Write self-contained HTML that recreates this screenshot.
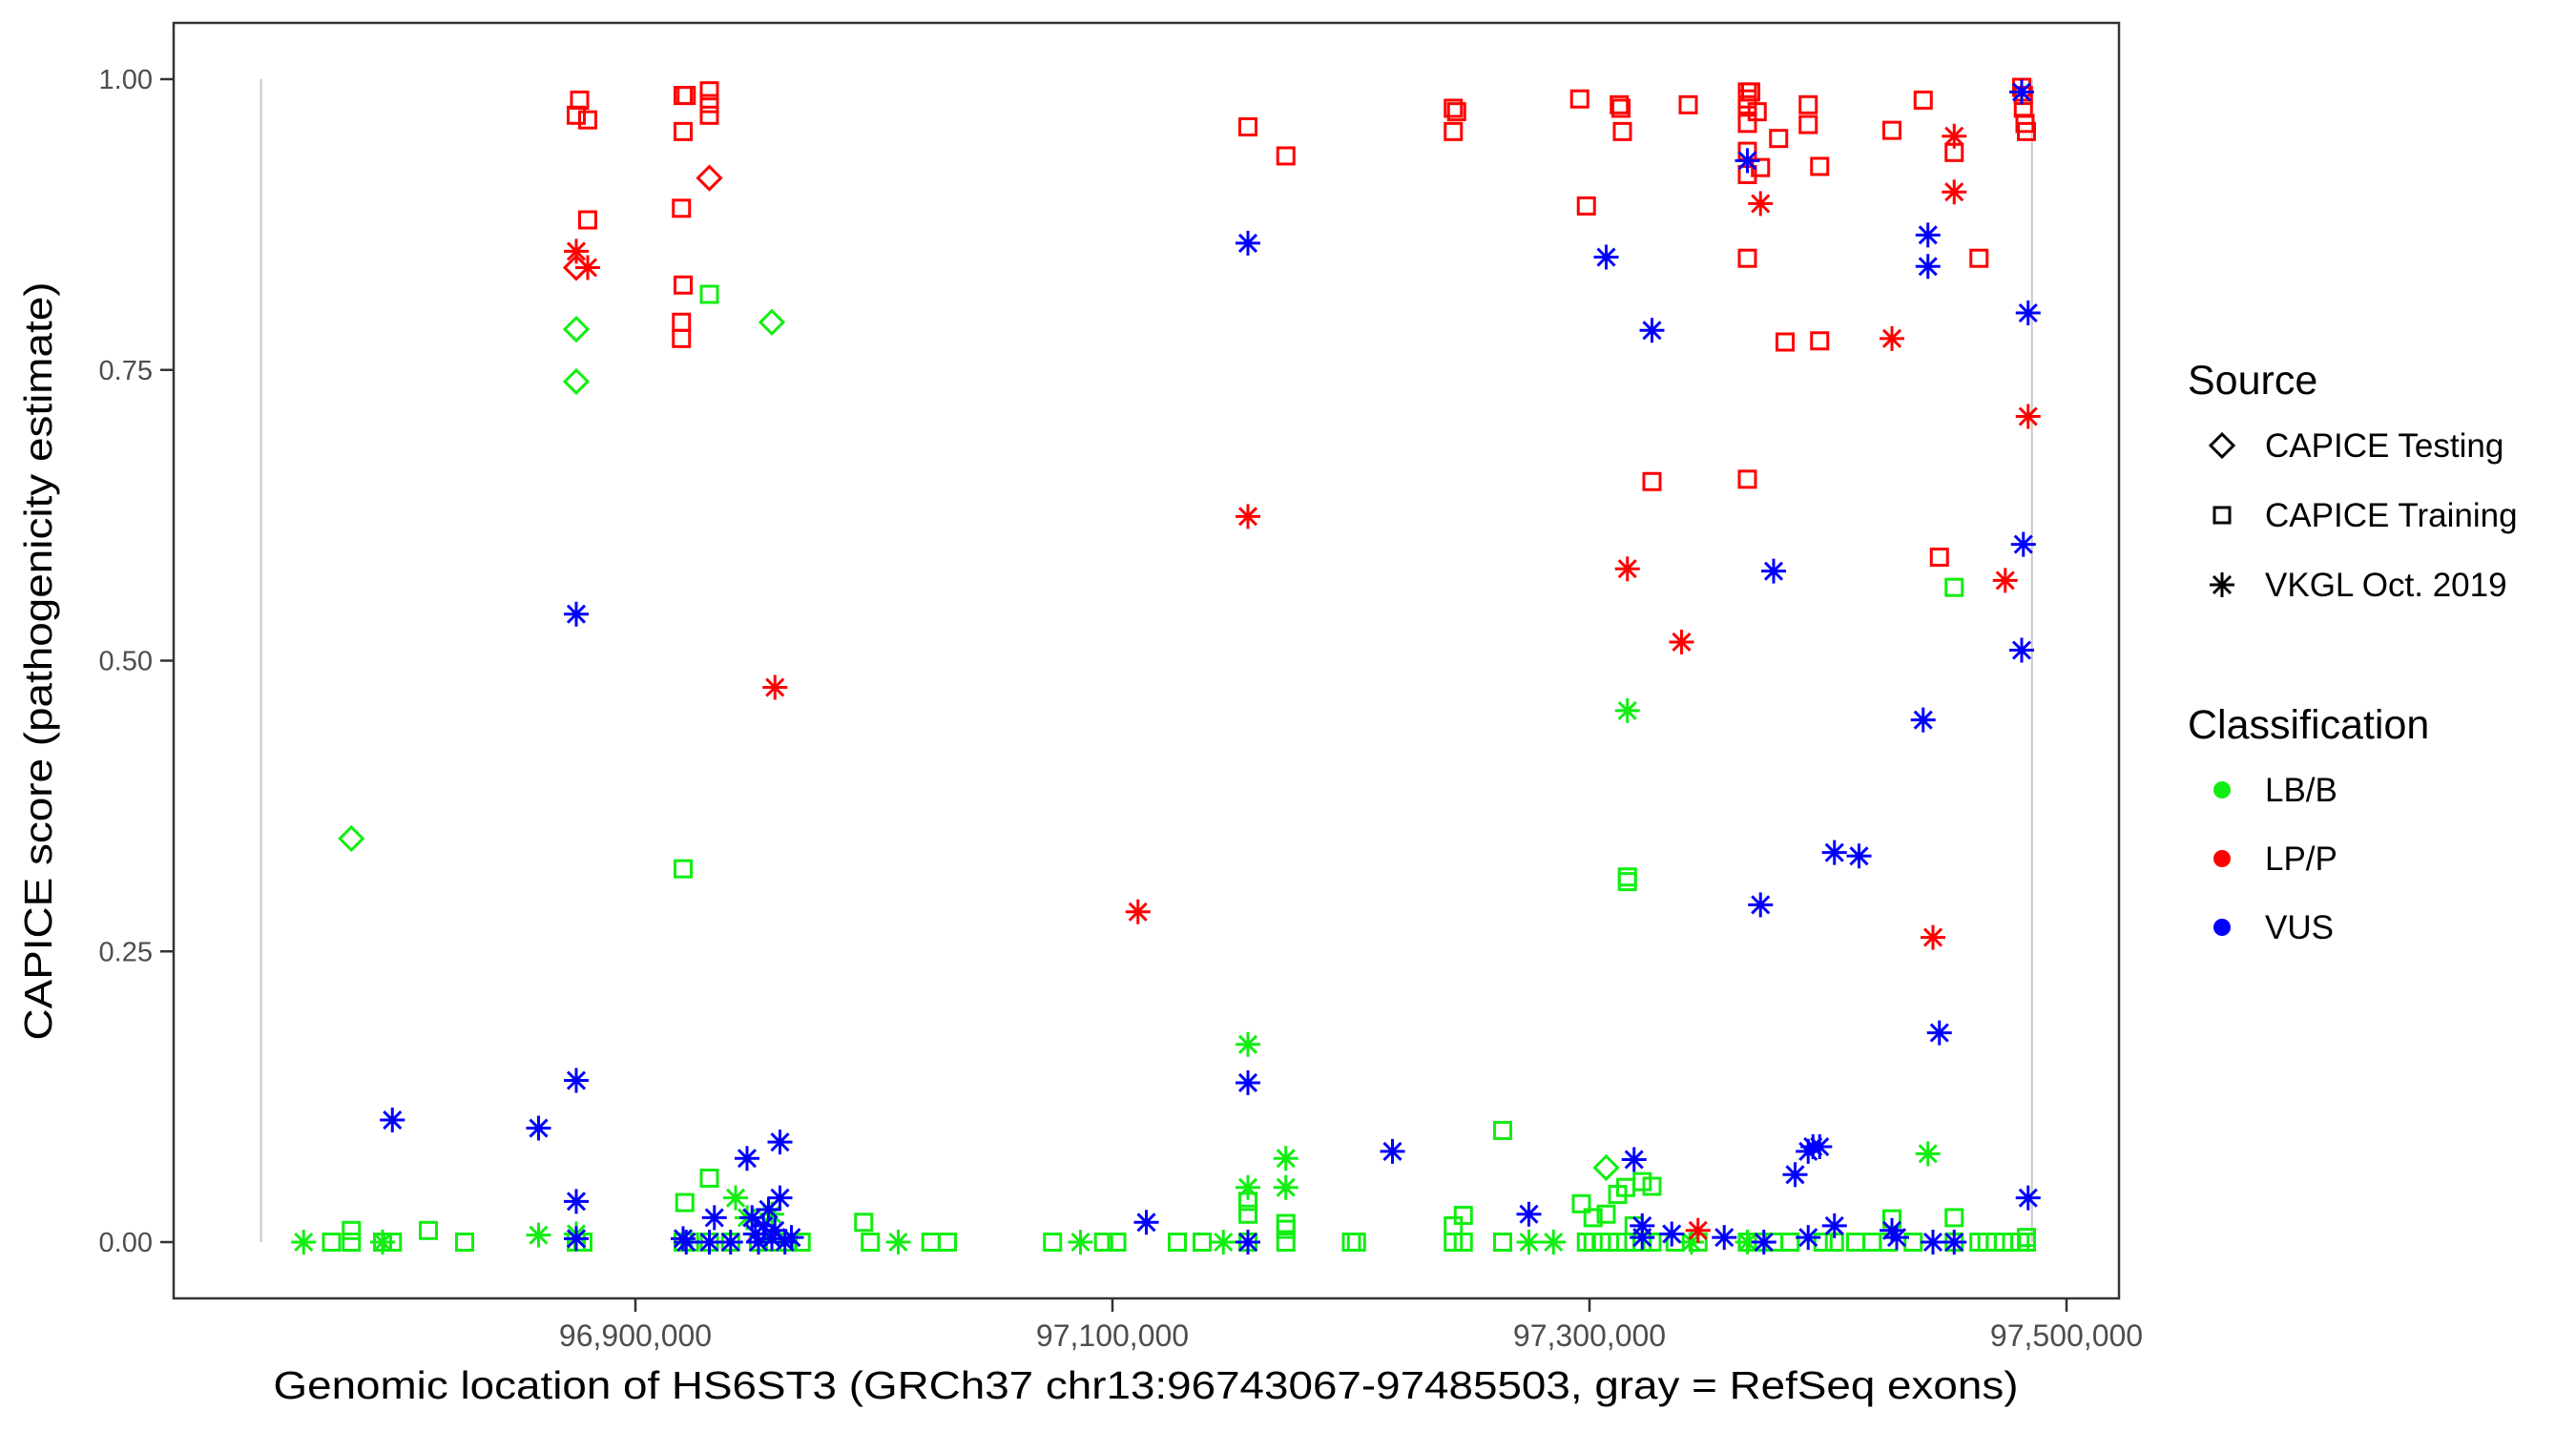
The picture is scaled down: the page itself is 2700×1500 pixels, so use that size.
<!DOCTYPE html>
<html><head><meta charset="utf-8"><title>CAPICE HS6ST3</title>
<style>html,body{margin:0;padding:0;background:#fff}svg{display:block}text{font-family:"Liberation Sans",Arial,sans-serif}</style>
</head><body>
<svg id="chart" width="2700" height="1500" viewBox="0 0 2700 1500" xmlns="http://www.w3.org/2000/svg">
<rect x="0" y="0" width="2700" height="1500" fill="#fff"/>
<g id="plot"></g>
<rect x="182" y="24" width="2039" height="1337" fill="none" stroke="#333" stroke-width="2.5"/>
<g id="axes"></g>
<text x="1201" y="1466" font-size="41" text-anchor="middle" textLength="1829" lengthAdjust="spacingAndGlyphs" fill="#000">Genomic location of HS6ST3 (GRCh37 chr13:96743067-97485503, gray = RefSeq exons)</text>
<text transform="translate(54,693) rotate(-90)" font-size="41" text-anchor="middle" textLength="795" lengthAdjust="spacingAndGlyphs" fill="#000">CAPICE score (pathogenicity estimate)</text>
<g id="legend">
<text x="2293" y="413" font-size="43" fill="#000">Source</text>
<g>
<path d="M2329 455 L2341 467 L2329 479 L2317 467 Z" fill="none" stroke="#000" stroke-width="3"/>
<text x="2374" y="479" font-size="35" fill="#000">CAPICE Testing</text></g>
<g>
<rect x="2321" y="532" width="16" height="16" fill="none" stroke="#000" stroke-width="3"/>
<text x="2374" y="552" font-size="35" fill="#000">CAPICE Training</text></g>
<g>
<path d="M2329 600 V626 M2316 613 H2342 M2320 604 L2338 622 M2338 604 L2320 622" stroke="#000" stroke-width="3"/>
<text x="2374" y="625" font-size="35" fill="#000">VKGL Oct. 2019</text></g>
<text x="2293" y="774" font-size="43" fill="#000">Classification</text>
<g><circle cx="2329" cy="828" r="9" fill="#11ee11"/><text x="2374" y="840" font-size="35" fill="#000">LB/B</text></g>
<g><circle cx="2329" cy="900" r="9" fill="#ff0000"/><text x="2374" y="912" font-size="35" fill="#000">LP/P</text></g>
<g><circle cx="2329" cy="972" r="9" fill="#0000ff"/><text x="2374" y="984" font-size="35" fill="#000">VUS</text></g>
</g>
</svg>
<script>
// positions in kb (genomic position / 1000), scores 0..1
const yTicks = [0, 0.25, 0.5, 0.75, 1.0];
const yTickLabels = ["0.00", "0.25", "0.50", "0.75", "1.00"];
const xTicks = [96900, 97100, 97300, 97500];
const xTickLabels = ["96,900,000", "97,100,000", "97,300,000", "97,500,000"];
const exonBounds = [96743.067, 97485.503];

const lbTestPos = [96780.9, 96875.2, 96875.2, 96957.2, 97307.0];
const lbTestScore = [0.347, 0.785, 0.740, 0.791, 0.064];

const lbTrainPos = [96931.0, 96920.0, 97452.9, 97263.6, 97315.9, 97315.9, 96920.7, 96931.0, 97156.8, 97156.8, 97172.7, 97172.7, 96780.9, 96813.2, 97296.6, 97307.0, 97311.8, 97315.2, 97322.1, 97326.2, 97301.5, 97318.7, 97242.9, 97247.1, 97426.8, 97452.9, 96995.7, 97483.2,
  96772.6, 96780.9, 96794.0, 96798.1, 96828.4, 96875.2, 96878.0, 96920.0, 96922.7, 96931.0, 96939.9, 96951.6, 96957.2, 96964.0, 96969.5, 96998.5, 97023.9, 97030.8, 97074.9, 97096.3, 97101.8, 97127.2, 97137.6, 97156.8, 97172.7, 97200.2, 97202.3, 97242.9, 97247.1, 97263.6, 97298.7, 97301.5, 97304.9, 97311.8, 97315.2, 97322.1, 97326.2, 97335.9, 97345.5, 97366.2, 97370.3, 97377.2, 97384.1, 97397.9, 97402.7, 97411.6, 97418.5, 97425.4, 97435.7, 97452.9, 97463.3, 97466.7, 97470.2, 97473.6, 97477.0, 97480.5, 97483.2];
const lbTrainScore = [0.815, 0.321, 0.563, 0.096, 0.314, 0.310, 0.034, 0.055, 0.035, 0.024, 0.011, 0.016, 0.010, 0.010, 0.033, 0.024, 0.041, 0.047, 0.052, 0.048, 0.021, 0.014, 0.014, 0.023, 0.020, 0.021, 0.017, 0.004,
  0, 0, 0, 0, 0, 0, 0, 0, 0, 0, 0, 0, 0, 0, 0, 0, 0, 0, 0, 0, 0, 0, 0, 0, 0, 0, 0, 0, 0, 0, 0, 0, 0, 0, 0, 0, 0, 0, 0, 0, 0, 0, 0, 0, 0, 0, 0, 0, 0, 0, 0, 0, 0, 0, 0, 0, 0];

const lbVkglPos = [96760.9, 96794.0, 96859.4, 96875.2, 96942.0, 96957.2, 97010.2, 97086.6, 97146.5, 97156.8, 97156.8, 97172.7, 97172.7, 97274.6, 97284.9, 97315.9, 97441.9, 97342.8, 97322.1, 97366.2, 96946.8];
const lbVkglScore = [0, 0, 0.006, 0.007, 0.038, 0.024, 0, 0, 0, 0.047, 0.170, 0.072, 0.047, 0, 0, 0.457, 0.076, 0, 0.004, 0, 0.021];

const lpTestPos = [96931.0, 96875.2];
const lpTestScore = [0.915, 0.838];

const lpTrainPos = [96875.2, 96876.6, 96880.0, 96880.0, 96920.0, 96921.3, 96920.0, 96919.3, 96920.0, 96919.3, 96919.3, 96931.0, 96931.0, 96931.0, 97156.8, 97172.7, 97242.9, 97244.3, 97242.9, 97295.9, 97298.7, 97312.5, 97313.2, 97313.8, 97326.2, 97341.4, 97366.2, 97366.2, 97367.6, 97366.2, 97366.2, 97366.2, 97366.2, 97366.2, 97366.2, 97370.3, 97371.7, 97379.3, 97382.0, 97391.7, 97391.7, 97396.5, 97396.5, 97426.8, 97439.9, 97446.7, 97452.9, 97463.3, 97481.2, 97481.9, 97481.9, 97482.6, 97483.2];
const lpTrainScore = [0.969, 0.982, 0.965, 0.879, 0.986, 0.986, 0.955, 0.889, 0.823, 0.791, 0.777, 0.990, 0.979, 0.969, 0.959, 0.934, 0.975, 0.972, 0.955, 0.983, 0.891, 0.978, 0.975, 0.955, 0.654, 0.978, 0.989, 0.983, 0.989, 0.978, 0.962, 0.938, 0.918, 0.846, 0.656, 0.972, 0.924, 0.949, 0.774, 0.978, 0.961, 0.925, 0.775, 0.956, 0.982, 0.589, 0.937, 0.846, 0.993, 0.986, 0.975, 0.962, 0.955];

const lpVkglPos = [96875.2, 96880.0, 96958.5, 97110.7, 97156.8, 97315.9, 97338.6, 97345.5, 97371.7, 97426.8, 97444.0, 97452.9, 97452.9, 97474.3, 97483.9];
const lpVkglScore = [0.852, 0.838, 0.477, 0.284, 0.624, 0.579, 0.516, 0.010, 0.893, 0.777, 0.262, 0.951, 0.903, 0.569, 0.710];

const vusVkglPos = [96875.2, 96875.2, 96875.2, 96875.2, 96798.1, 96859.4, 96920.0, 96921.3, 96931.0, 96933.1, 96939.9, 96946.8, 96948.9, 96950.3, 96951.6, 96953.7, 96955.8, 96957.2, 96958.5, 96960.6, 96960.6, 96962.7, 96965.4, 97156.8, 97156.8, 97156.8, 97114.2, 97217.4, 97274.6, 97307.0, 97318.7, 97322.1, 97322.1, 97326.2, 97334.5, 97356.5, 97366.2, 97371.7, 97373.1, 97377.2, 97386.2, 97391.7, 97393.7, 97391.7, 97396.5, 97402.7, 97402.7, 97413.0, 97426.8, 97428.8, 97439.9, 97441.9, 97441.9, 97444.0, 97446.7, 97452.9, 97481.2, 97483.9, 97481.9, 97481.2, 97483.9];
const vusVkglScore = [0.540, 0.139, 0.035, 0.003, 0.105, 0.098, 0.003, 0, 0, 0.021, 0, 0.072, 0.021, 0.007, 0, 0.014, 0.028, 0.003, 0.010, 0.086, 0.038, 0, 0.004, 0.859, 0.137, 0, 0.017, 0.078, 0.024, 0.847, 0.071, 0.014, 0.004, 0.784, 0.007, 0.004, 0.930, 0.290, 0, 0.577, 0.058, 0.078, 0.082, 0.004, 0.082, 0.014, 0.335, 0.332, 0.010, 0.004, 0.449, 0.866, 0.839, 0, 0.180, 0, 0.989, 0.799, 0.600, 0.509, 0.038];

const NS = "http://www.w3.org/2000/svg";
function xScale(kb) { return 666 + (kb - 96900) * 2.5; }
function yScale(s) { return 1302 - s * 1219; }
const GREEN = "#11ee11", RED = "#ff0000", BLUE = "#0000ff";
const plot = document.getElementById("plot");
const axes = document.getElementById("axes");

function mk(tag, attrs, parent) {
  const e = document.createElementNS(NS, tag);
  for (const k in attrs) e.setAttribute(k, attrs[k]);
  parent.appendChild(e);
  return e;
}

exonBounds.forEach(function (b) {
  const l = mk("line", { x1: xScale(b), x2: xScale(b), y1: yScale(1), y2: yScale(0), stroke: "#c8c8c8", "stroke-width": 2 }, plot);
  
  
});

yTicks.forEach(function (t, i) {
  const y = yScale(t);
  const tk = mk("line", { x1: 168, x2: 182, y1: y, y2: y, stroke: "#333", "stroke-width": 2.5 }, axes);
  
  
  const tx = mk("text", { x: 160, y: y + 10, "font-size": 29, "text-anchor": "end", fill: "#4d4d4d" }, axes);
  tx.textContent = yTickLabels[i];
  
  
});
xTicks.forEach(function (t, i) {
  const x = xScale(t);
  const tk = mk("line", { x1: x, x2: x, y1: 1361, y2: 1375, stroke: "#333", "stroke-width": 2.5 }, axes);
  
  
  const tx = mk("text", { x: x, y: 1411, "font-size": 32, "text-anchor": "middle", fill: "#4d4d4d" }, axes);
  tx.textContent = xTickLabels[i];
  
  
});

function drawSquare(x, y, c) {
  const e = mk("rect", { x: x - 8.5, y: y - 8.5, width: 17, height: 17, fill: "none", stroke: c, "stroke-width": 3 }, plot);
  
  
}
function drawDiamond(x, y, c) {
  const e = mk("path", { d: "M" + x + " " + (y - 12) + " L" + (x + 12) + " " + y + " L" + x + " " + (y + 12) + " L" + (x - 12) + " " + y + " Z", fill: "none", stroke: c, "stroke-width": 3 }, plot);
  
  
}
function drawStar(x, y, c) {
  const r = 13, d = 9;
  const e = mk("path", { d: "M" + x + " " + (y - r) + " V" + (y + r) + " M" + (x - r) + " " + y + " H" + (x + r) + " M" + (x - d) + " " + (y - d) + " L" + (x + d) + " " + (y + d) + " M" + (x + d) + " " + (y - d) + " L" + (x - d) + " " + (y + d), stroke: c, "stroke-width": 3, fill: "none" }, plot);
  
  
}
function series(pos, score, fn, c) {
  for (let i = 0; i < pos.length; i++) fn(xScale(pos[i]), yScale(score[i]), c);
}
series(lbTrainPos, lbTrainScore, drawSquare, GREEN);
series(lpTrainPos, lpTrainScore, drawSquare, RED);
series(lbTestPos, lbTestScore, drawDiamond, GREEN);
series(lpTestPos, lpTestScore, drawDiamond, RED);
series(lbVkglPos, lbVkglScore, drawStar, GREEN);
series(lpVkglPos, lpVkglScore, drawStar, RED);
series(vusVkglPos, vusVkglScore, drawStar, BLUE);
</script>
</body></html>
